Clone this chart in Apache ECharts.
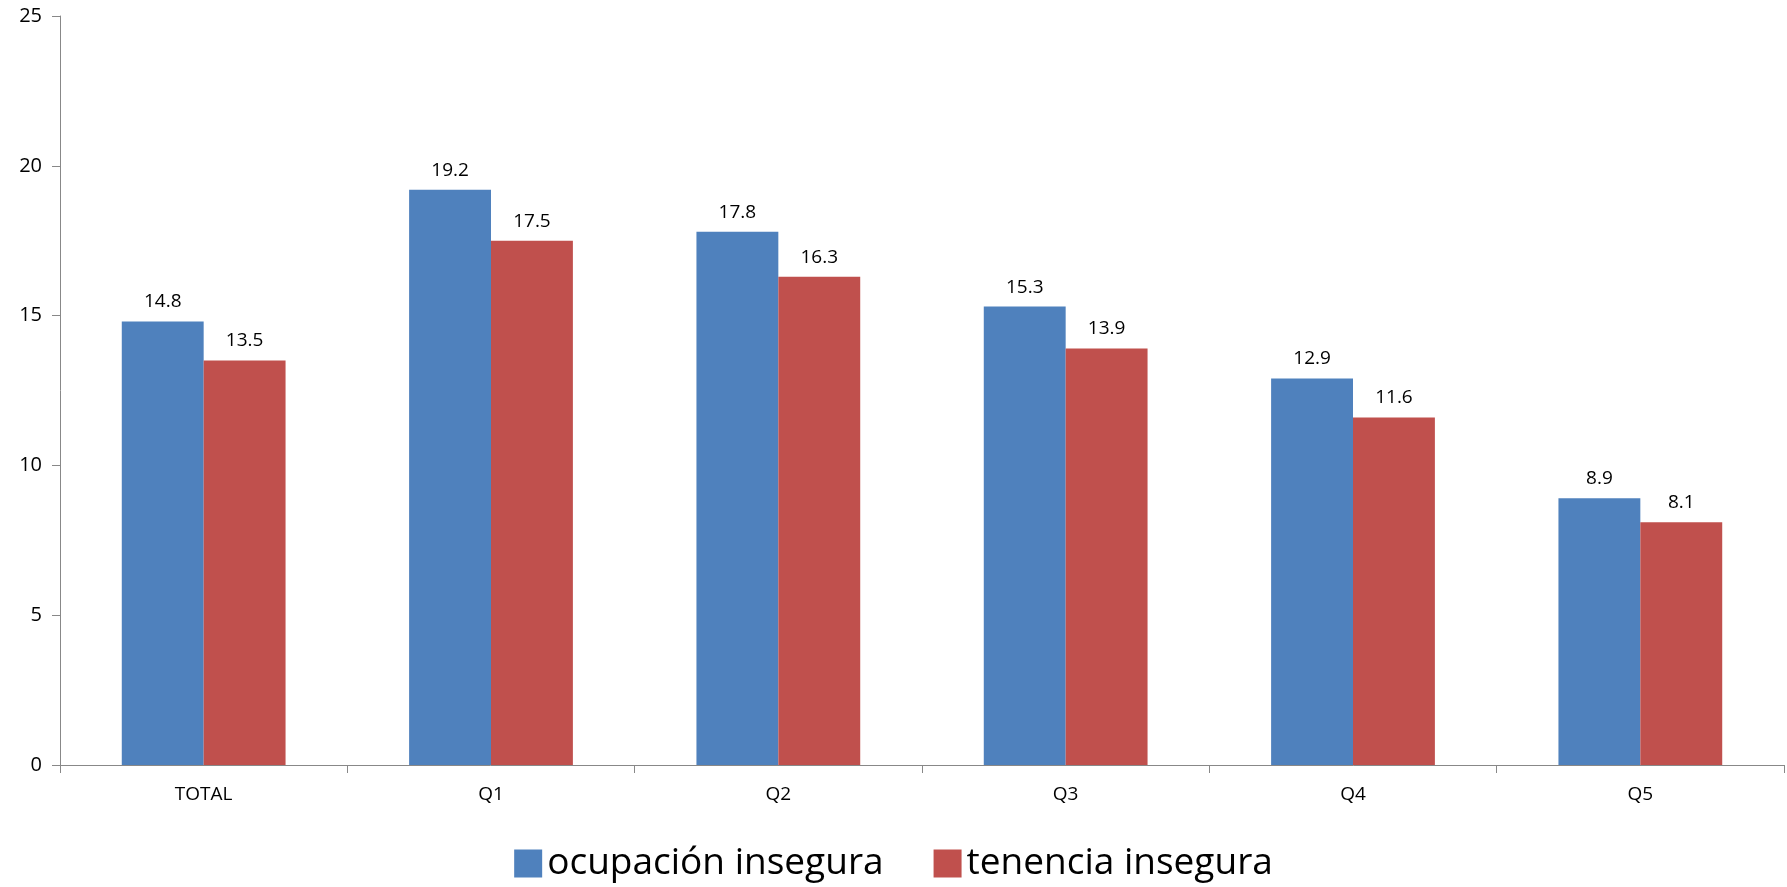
<!DOCTYPE html>
<html><head><meta charset="utf-8">
<script src="https://cdn.jsdelivr.net/npm/echarts@6/dist/echarts.min.js"></script>
<style>html,body{margin:0;padding:0;background:#fff}#c{width:1787px;height:887px}</style>
</head><body><div id="c"></div>
<script>
const categories = ['TOTAL','Q1','Q2','Q3','Q4','Q5'];
const ocupacion = [14.8,19.2,17.8,15.3,12.9,8.9];
const tenencia = [13.5,17.5,16.3,13.9,11.6,8.1];
const yTicks = {min:0,max:25,interval:5};
const font = "'Open Sans', 'Liberation Sans', sans-serif";
const chart = echarts.init(document.getElementById('c'));
const lbl = {show:true,position:'top',distance:10,color:'#000',fontSize:19,fontFamily:font,formatter:p=>p.value.toFixed(1)};
chart.setOption({
  animation:false,
  grid:{left:60,right:3,top:16,bottom:122},
  legend:{bottom:0,left:'center',itemWidth:28,itemHeight:28,itemGap:50,icon:'rect',
    textStyle:{fontSize:37,fontFamily:font,color:'#000'}},
  xAxis:{type:'category',data:categories,
    axisLine:{lineStyle:{color:'#888'}},
    axisTick:{show:true,length:8,lineStyle:{color:'#888'}},
    axisLabel:{fontSize:19,fontFamily:font,color:'#000',margin:20}},
  yAxis:{type:'value',min:yTicks.min,max:yTicks.max,interval:yTicks.interval,
    splitLine:{show:false},
    axisLine:{show:true,lineStyle:{color:'#888'}},
    axisTick:{show:true,length:8,lineStyle:{color:'#888'}},
    axisLabel:{fontSize:20,fontFamily:font,color:'#000',margin:18}},
  series:[
    {name:'ocupación insegura',type:'bar',data:ocupacion,barGap:'0%',barCategoryGap:'43%',
     itemStyle:{color:'#4F81BD'},label:lbl},
    {name:'tenencia insegura',type:'bar',data:tenencia,
     itemStyle:{color:'#C0504D'},label:lbl}
  ]
});
</script></body></html>
